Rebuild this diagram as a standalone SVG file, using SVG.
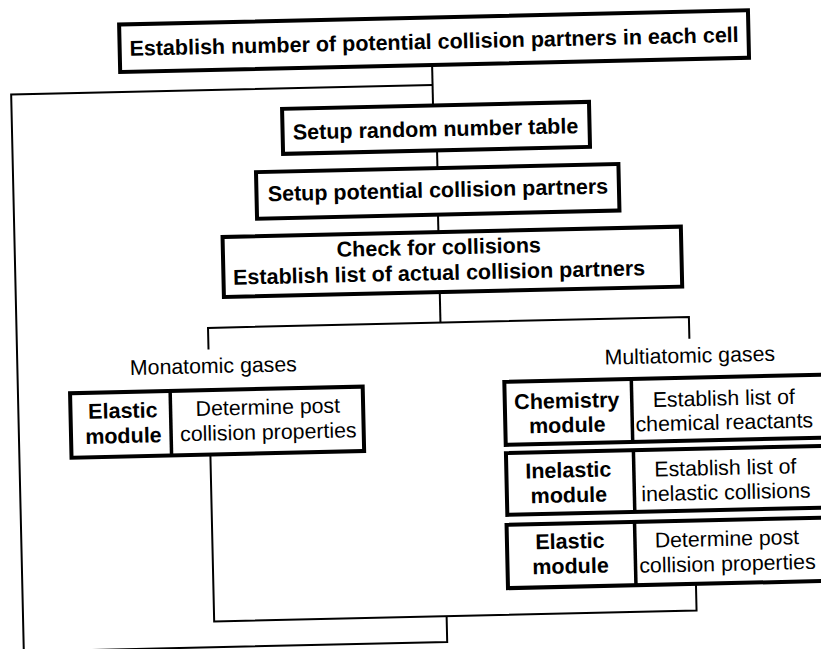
<svg xmlns="http://www.w3.org/2000/svg" width="821" height="649" viewBox="0 0 821 649">
<style>
.box{fill:#fff;stroke:#000;stroke-width:4}
.div{stroke:#000;stroke-width:3.5}
.con{fill:none;stroke:#000;stroke-width:2}
.b{font-family:"Liberation Sans",Arial,sans-serif;font-weight:bold;font-size:21.5px;text-anchor:middle;fill:#000}
.r{font-family:"Liberation Sans",Arial,sans-serif;font-size:21.3px;text-anchor:middle;fill:#000}
</style>
<rect width="821" height="649" fill="#fff"/>
<g transform="rotate(-1.3 410 325)">
<g id="connectors" class="con">
<path d="M438 66 V106"/>
<path d="M438 85.5 H16.5 V642.7 H440 V617"/>
<path d="M441 151 V169"/>
<path d="M440.5 215 V233"/>
<path d="M440.5 293 V323.3"/>
<path d="M208 345 V323.3 H689 V345"/>
<path d="M207.5 450 V617 H690 V590"/>
</g>
<g id="n_establish">
<rect class="box" x="126" y="18" width="629" height="47.5"/>
<text class="b" x="440.5" y="49.5">Establish number of potential collision partners in each cell</text>
</g>
<g id="n_random">
<rect class="box" x="287" y="106" width="307" height="45"/>
<text class="b" x="440" y="137">Setup random number table</text>
</g>
<g id="n_potential">
<rect class="box" x="259.5" y="168.7" width="362.5" height="46.6"/>
<text class="b" x="441" y="198">Setup potential collision partners</text>
</g>
<g id="n_check">
<rect class="box" x="224.6" y="232.8" width="458.4" height="60"/>
<text class="b" x="440.5" y="255.2">Check for collisions</text>
<text class="b" x="440.3" y="280.7">Establish list of actual collision partners</text>
</g>
<g id="l_mono">
<text class="r" x="212.5" y="368.6">Monatomic gases</text>
</g>
<g id="l_multi">
<text class="r" x="689" y="369">Multiatomic gases</text>
</g>
<g id="n_elastic_mono">
<rect class="box" x="68.6" y="385.5" width="292.7" height="64.5"/>
<line class="div" x1="168.7" y1="385.5" x2="168.7" y2="450"/>
<text class="b" x="121" y="411.5">Elastic</text>
<text class="b" x="121" y="436.5">module</text>
<text class="r" x="266" y="411">Determine post</text>
<text class="r" x="266" y="436">collision properties</text>
</g>
<g id="n_chemistry">
<rect class="box" x="503" y="384" width="330" height="63"/>
<line class="div" x1="630" y1="384" x2="630" y2="447"/>
<text class="b" x="565" y="411.6">Chemistry</text>
<text class="b" x="565" y="436">module</text>
<text class="r" x="722" y="412.5">Establish list of</text>
<text class="r" x="722" y="436.5">chemical reactants</text>
</g>
<g id="n_inelastic">
<rect class="box" x="503" y="455.3" width="330" height="61.7"/>
<line class="div" x1="630.5" y1="455.3" x2="630.5" y2="517"/>
<text class="b" x="565" y="481">Inelastic</text>
<text class="b" x="565" y="506">module</text>
<text class="r" x="722" y="482">Establish list of</text>
<text class="r" x="722" y="506.5">inelastic collisions</text>
</g>
<g id="n_elastic_multi">
<rect class="box" x="502" y="527" width="330" height="63.3"/>
<line class="div" x1="630" y1="527" x2="630" y2="590.3"/>
<text class="b" x="565" y="552">Elastic</text>
<text class="b" x="565" y="577">module</text>
<text class="r" x="722" y="553">Determine post</text>
<text class="r" x="722" y="578">collision properties</text>
</g>
</g>
</svg>
